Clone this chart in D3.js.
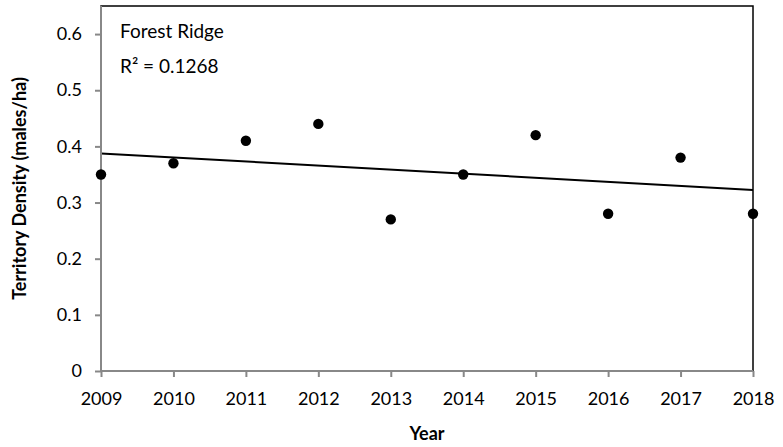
<!DOCTYPE html>
<html>
<head>
<meta charset="utf-8">
<script src="https://cdn.jsdelivr.net/npm/d3@7"></script>
<style>
  html, body { margin: 0; padding: 0; background: #fff; }
  svg { display: block; font-family: Lato, "Open Sans", sans-serif; }
</style>
</head>
<body>
<svg id="chart" width="783" height="447"></svg>
<script>
// Territory density per year at Forest Ridge
const years = [2009, 2010, 2011, 2012, 2013, 2014, 2015, 2016, 2017, 2018];
const density = [0.35, 0.37, 0.41, 0.44, 0.27, 0.35, 0.42, 0.28, 0.38, 0.28];
const yTicks = [0, 0.1, 0.2, 0.3, 0.4, 0.5, 0.6];
const siteName = "Forest Ridge";
const xTitle = "Year";
const yTitle = "Territory Density (males/ha)";

const svg = d3.select("#chart");
const margin = { left: 101, right: 30, top: 6, bottom: 76 };
const W = 783, H = 447;
const plotW = W - margin.left - margin.right;
const plotH = H - margin.top - margin.bottom;

const x = d3.scaleLinear().domain([2009, 2018]).range([0, plotW]);
const y = d3.scaleLinear().domain([0, 0.65]).range([plotH, 0]);

const g = svg.append("g").attr("transform", `translate(${margin.left},${margin.top})`);

// plot area frame
g.append("rect")
  .attr("x", 0).attr("y", 0)
  .attr("width", plotW).attr("height", plotH)
  .attr("fill", "none").attr("stroke", "#000").attr("stroke-width", 1.5);

// least-squares trend line
const mx = d3.mean(years), my = d3.mean(density);
let sxy = 0, sxx = 0, syy = 0;
years.forEach((yr, i) => {
  sxy += (yr - mx) * (density[i] - my);
  sxx += (yr - mx) * (yr - mx);
  syy += (density[i] - my) * (density[i] - my);
});
const slope = sxy / sxx;
const intercept = my - slope * mx;
const r2 = (sxy * sxy) / (sxx * syy);
const xs = d3.extent(years);
g.append("line")
  .attr("x1", x(xs[0])).attr("y1", y(intercept + slope * xs[0]))
  .attr("x2", x(xs[1])).attr("y2", y(intercept + slope * xs[1]))
  .attr("stroke", "#000").attr("stroke-width", 2);

// axes
const yAxis = d3.axisLeft(y).tickValues(yTicks).tickSize(6).tickPadding(13)
  .tickFormat(d => d === 0 ? "0" : d3.format(".1f")(d));
const yG = g.append("g").call(yAxis);
const xAxis = d3.axisBottom(x).tickValues(years).tickSize(6).tickPadding(15)
  .tickFormat(d3.format("d"));
const xG = g.append("g").attr("transform", `translate(0,${plotH})`).call(xAxis);

[yG, xG].forEach(a => {
  a.select(".domain").attr("stroke", "#888").attr("stroke-width", 2);
  a.selectAll(".tick line").attr("stroke", "#888").attr("stroke-width", 2);
  a.selectAll(".tick text").attr("fill", "#000").style("font-size", "18px")
    .style("font-family", "Lato, 'Open Sans', sans-serif");
});
yG.select(".domain").attr("d", `M0,${plotH}V0`);
xG.select(".domain").attr("d", `M0,0H${plotW}`);

// points
g.selectAll("circle.pt")
  .data(years.map((yr, i) => ({ yr, v: density[i] })))
  .join("circle")
  .attr("class", "pt")
  .attr("cx", d => x(d.yr)).attr("cy", d => y(d.v))
  .attr("r", 5.2).attr("fill", "#000");

// annotations
g.append("text").attr("x", 19).attr("y", 32)
  .style("font-size", "19px").text(siteName);
g.append("text").attr("x", 19).attr("y", 67)
  .style("font-size", "19px")
  .text("R² = " + r2.toFixed(4));

// axis titles
svg.append("text")
  .attr("x", margin.left + plotW / 2).attr("y", 440)
  .attr("text-anchor", "middle")
  .style("font-size", "18px").style("font-weight", "bold")
  .text(xTitle);
svg.append("text")
  .attr("transform", `translate(26,${margin.top + plotH / 2}) rotate(-90)`)
  .attr("text-anchor", "middle")
  .style("font-size", "18px").style("font-weight", "bold")
  .text(yTitle);
</script>
</body>
</html>
